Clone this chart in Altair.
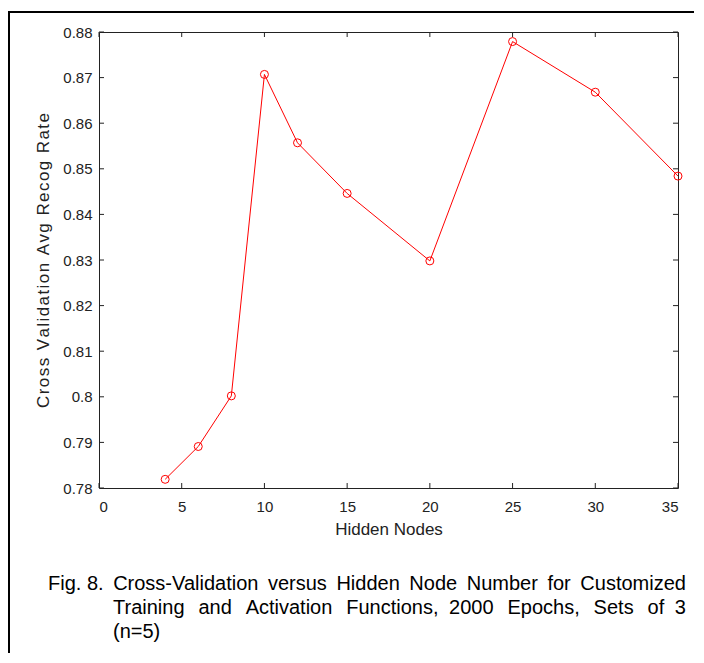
import altair as alt
import pandas as pd

hidden_nodes = [4, 6, 8, 10, 12, 15, 20, 25, 30, 35]
recog_rate = [0.7819, 0.7891, 0.8002, 0.8707, 0.8557, 0.8446, 0.8298, 0.8779, 0.8668, 0.8484]
x_ticks = [0, 5, 10, 15, 20, 25, 30, 35]
y_ticks = [0.78, 0.79, 0.80, 0.81, 0.82, 0.83, 0.84, 0.85, 0.86, 0.87, 0.88]
caption_words_1 = ["Fig.", "8.", "Cross-Validation", "versus", "Hidden", "Node", "Number", "for", "Customized"]
caption_words_2 = ["Training", "and", "Activation", "Functions,", "2000", "Epochs,", "Sets", "of", "3"]
caption_line_3 = "(n=5)"
x_title = "Hidden Nodes"
y_title = "Cross Validation Avg Recog Rate"

W, H = 579, 456
FONT = "Liberation Sans"
AX = "#222222"

# justified look: widen the word gaps / letter spacing
gaps1 = [" "] + [" \u2009"] * 7
cap1_text = caption_words_1[0] + "".join(g + w for g, w in zip(gaps1, caption_words_1[1:]))
gaps2 = [" \u2005\u2006"] * 3 + [" \u2005"] + [" \u2005\u2006"] * 3 + [" \u2005"]
cap2_text = caption_words_2[0] + "".join(g + w for g, w in zip(gaps2, caption_words_2[1:]))
cap3_text = caption_line_3
y_title_spaced = "\u200a".join(y_title)

xs = alt.Scale(domain=[0, 35], nice=False, zero=False)
ys = alt.Scale(domain=[0.78, 0.88], nice=False, zero=False)

x_enc = alt.X("nodes:Q", scale=xs, title=x_title,
              axis=alt.Axis(values=x_ticks, format="d", ticks=False, domain=False, grid=False,
                            labelPadding=11, titlePadding=7, labelFont=FONT, titleFont=FONT,
                            labelFontSize=15, titleFontSize=17, titleFontWeight="normal",
                            labelColor=AX, titleColor=AX))
y_enc = alt.Y("rate:Q", scale=ys, title=y_title_spaced,
              axis=alt.Axis(values=y_ticks, format=".2~f", ticks=False, domain=False, grid=False,
                            labelPadding=7, titlePadding=10, labelFont=FONT, titleFont=FONT,
                            labelFontSize=15, titleFontSize=17, titleFontWeight="normal",
                            labelColor=AX, titleColor=AX))

df = pd.DataFrame({"nodes": hidden_nodes, "rate": recog_rate})
line = alt.Chart(df).mark_line(color="#ff0000", strokeWidth=1).encode(x=x_enc, y=y_enc)
pts = alt.Chart(df).mark_point(shape="circle", filled=False, color="#ff0000", size=64,
                               strokeWidth=1, opacity=1).encode(x=x_enc, y=y_enc)

xt_df = pd.DataFrame({"nodes": x_ticks})
yt_df = pd.DataFrame({"rate": y_ticks})
xt_bot = alt.Chart(xt_df).mark_rule(color=AX, strokeWidth=1).encode(
    x=x_enc, y=alt.value(H), y2=alt.value(H - 5))
xt_top = alt.Chart(xt_df).mark_rule(color=AX, strokeWidth=1).encode(
    x=x_enc, y=alt.value(0), y2=alt.value(5))
yt_left = alt.Chart(yt_df).mark_rule(color=AX, strokeWidth=1).encode(
    y=y_enc, x=alt.value(0), x2=alt.value(5))
yt_right = alt.Chart(yt_df).mark_rule(color=AX, strokeWidth=1).encode(
    y=y_enc, x=alt.value(W), x2=alt.value(W - 5))

one = pd.DataFrame({"k": [0]})
border_top = alt.Chart(one).mark_rule(color="#000000", strokeWidth=2).encode(
    x=alt.value(-91), x2=alt.value(605), y=alt.value(-20))
border_left = alt.Chart(one).mark_rule(color="#000000", strokeWidth=2).encode(
    x=alt.value(-90), y=alt.value(-21), y2=alt.value(640))

cap_style = dict(font=FONT, fontSize=20, color="#000000", align="left", baseline="alphabetic")
cap1 = alt.Chart(pd.DataFrame({"t": [cap1_text]})).mark_text(**cap_style).encode(
    text="t:N", x=alt.value(-51), y=alt.value(558))
cap2 = alt.Chart(pd.DataFrame({"t": [cap2_text]})).mark_text(**cap_style).encode(
    text="t:N", x=alt.value(14), y=alt.value(582))
cap3 = alt.Chart(pd.DataFrame({"t": [cap3_text]})).mark_text(**cap_style).encode(
    text="t:N", x=alt.value(14), y=alt.value(606))

chart = alt.layer(
    line, pts, xt_bot, xt_top, yt_left, yt_right, border_top, border_left, cap1, cap2, cap3
).properties(
    width=W, height=H,
    autosize=alt.AutoSizeParams(type="none"),
    padding={"left": 91, "top": 24, "right": 16, "bottom": 165},
    background="#ffffff",
).configure_view(stroke=AX, strokeWidth=1)

chart.save("out.html", embed_options={"renderer": "svg", "actions": False})
